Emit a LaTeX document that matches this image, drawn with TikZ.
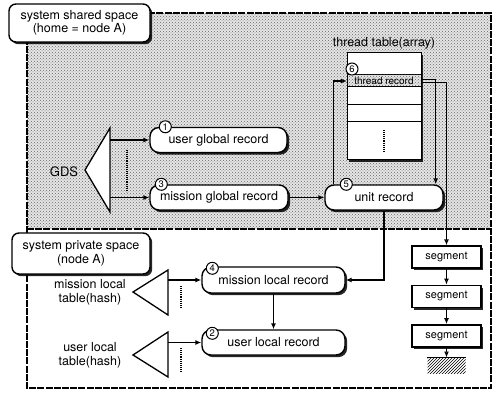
\documentclass[tikz,border=0pt]{standalone}
\usepackage{fontspec}
\setmainfont{TeX Gyre Heros}
\usetikzlibrary{arrows.meta, positioning, shadows, patterns, calc}

\begin{document}
\begin{tikzpicture}[x=1pt, y=-1pt,
  shade/.style={drop shadow={shadow xshift=2.2pt, shadow yshift=-2.2pt, fill=black, opacity=0.85}},
  rec/.style={draw, fill=white, rounded corners=9pt, line width=1.4pt,
    minimum height=25pt, inner sep=1pt, font=\fontsize{12.5}{14}\selectfont, shade},
  lbl/.style={draw, fill=white, rounded corners=7pt, line width=1.4pt,
    align=center, inner sep=2pt, font=\fontsize{12.5}{13.5}\selectfont, shade},
  seg/.style={draw, fill=white, line width=1.4pt, minimum width=69pt,
    minimum height=22pt, inner sep=1pt, font=\fontsize{11}{12}\selectfont, shade},
  cell/.style={draw, fill=white, line width=1pt, minimum width=74pt,
    inner sep=0pt, outer sep=0pt, font=\fontsize{10}{10}\selectfont, shade},
  num/.style={circle, draw, fill=white, line width=1pt, inner sep=0pt,
    minimum size=12pt, font=\fontsize{9.5}{9.5}\selectfont},
  txt/.style={align=center, font=\fontsize{12.5}{14}\selectfont},
  tri/.style={draw, fill=white, line width=1.3pt, line join=miter},
  frame/.style={line width=1.6pt, dash pattern=on 7pt off 1.2pt},
  arr/.style={-{Latex[open, length=6pt, width=5pt]}, line width=1.5pt},
  dots/.style={densely dotted, line width=1.1pt}
]
\useasboundingbox (0,0) rectangle (496,393);
% Spaces
\fill[black!10] (27,13) rectangle (490,229);
\fill[pattern=crosshatch dots, pattern color=black!60] (27,13) rectangle (490,229);
\draw[frame] (27,13) rectangle (491,388);
\draw[frame] (27,229) -- (491,229);
\node[lbl, minimum width=141pt, minimum height=38pt] (shared) at (79.5,23)
  {system shared space\\(home = node A)};
\node[lbl, minimum width=138pt, minimum height=41pt] (private) at (81,253.5)
  {system private space\\(node A)};
% Tables
\draw[tri] (110,128) -- (85,170) -- (110,212) -- cycle;
\draw[tri] (168,270) -- (133,292) -- (168,315) -- cycle;
\draw[tri] (168,332) -- (133,355) -- (168,377) -- cycle;
\node[txt, font=\fontsize{13}{14}\selectfont] (gds) at (64,172) {GDS};
\node[txt] (mlt) at (90,292) {mission local\\table(hash)};
\node[txt] (ult) at (90,355) {user local\\table(hash)};
\coordinate (gdsU) at (110,140);
\coordinate (gdsM) at (110,197.5);
\coordinate (mltA) at (168,280);
\coordinate (ultA) at (168,342.5);
\draw[dots] (127,150) -- (127,192);
\draw[dots] (181,286) -- (181,308);
\draw[dots] (181,348) -- (181,372);
% Records
\node[rec, minimum width=137pt] (ugr) at (218.5,140) {user global record};
\node[rec, minimum width=138pt] (mgr) at (219,197.5) {mission global record};
\node[rec, minimum width=118pt] (unit) at (384,197.5) {unit record};
\node[rec, minimum width=143pt, minimum height=26pt] (mlr) at (273.5,280) {mission local record};
\node[rec, minimum width=143pt] (ulr) at (273.5,342.5) {user local record};
% Thread table
\node[txt] (ttl) at (384,43) {thread table(array)};
\node[cell, minimum height=22pt] (tt0) at (384,64) {};
\node[cell, minimum height=12pt, below=0pt of tt0, fill=black!10,
  postaction={pattern=crosshatch dots, pattern color=black!60}] (trec) {thread record};
\node[cell, minimum height=18pt, below=0pt of trec] (tt2) {};
\node[cell, minimum height=17pt, below=0pt of tt2] (tt3) {};
\node[cell, minimum height=38pt, below=0pt of tt3] (tt4) {};
\draw[dots] (tt4.north) ++(0,8) -- ++(0,22);
% Segments
\node[seg] (s1) at (446.5,257) {segment};
\node[seg, below=16pt of s1] (s2) {segment};
\node[seg, below=16pt of s2] (s3) {segment};
\node[pattern=north east lines, minimum width=38pt, minimum height=16pt,
  inner sep=0pt, below=10pt of s3] (gnd) {};
\draw[line width=1.2pt] (gnd.north west) -- (gnd.north east);
% Numbers
\node[num] (n1) at ([xshift=16pt]ugr.north west) {1};
\node[num] (n3) at ([xshift=12pt]mgr.north west) {3};
\node[num] (n5) at ([xshift=22pt]unit.north west) {5};
\node[num] (n6) at ([xshift=5pt, yshift=6pt]trec.north west) {6};
\node[num] (n4) at ([xshift=11pt, yshift=-2pt]mlr.north west) {4};
\node[num] (n2) at ([xshift=11pt, yshift=-4pt]ulr.north west) {2};
% Arrows
\draw[arr] (gdsU) -- (gdsU -| ugr.west);
\draw[arr] (gdsM) -- (gdsM -| mgr.west);
\draw[arr] (mgr) -- (unit);
\draw[arr] ([xshift=9pt]unit.north west) |- (trec.west);
\draw[arr] ([yshift=1.5pt]trec.east) -| ([xshift=-8pt]unit.north east);
\draw[arr] ([yshift=-1.5pt]trec.east) -| (s1.north);
\draw[arr] (unit.south) |- (mlr.east);
\draw[arr] (mlr) -- (ulr);
\draw[arr] (mltA) -- (mltA -| mlr.west);
\draw[arr] (ultA) -- (ultA -| ulr.west);
\draw[arr] (s1) -- (s2);
\draw[arr] (s2) -- (s3);
\draw[arr] (s3) -- (gnd);
\end{tikzpicture}
\end{document}
